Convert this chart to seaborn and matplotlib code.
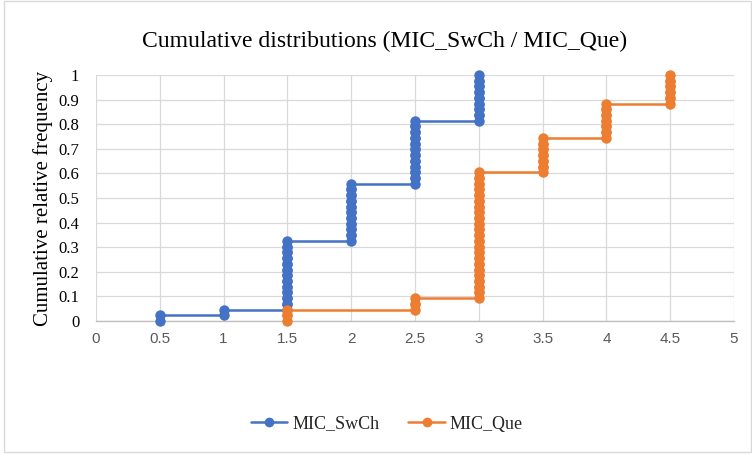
import numpy as np
import pandas as pd
import matplotlib
matplotlib.use("Agg")
import matplotlib.pyplot as plt
import seaborn as sns
from matplotlib.patches import Rectangle
from matplotlib.lines import Line2D

# ---- data ----
mic_levels = [0.5, 1.0, 1.5, 2.0, 2.5, 3.0, 3.5, 4.0, 4.5]
swch_counts = [1, 1, 12, 10, 11, 8, 0, 0, 0]   # n = 43
que_counts = [0, 0, 2, 0, 2, 22, 6, 6, 5]      # n = 43
series_names = ["MIC_SwCh", "MIC_Que"]
x_ticks = [0, 0.5, 1, 1.5, 2, 2.5, 3, 3.5, 4, 4.5, 5]
y_ticks = [0, 0.1, 0.2, 0.3, 0.4, 0.5, 0.6, 0.7, 0.8, 0.9, 1]
title = "Cumulative distributions (MIC_SwCh / MIC_Que)"
ylabel = "Cumulative relative frequency"

colors = {"MIC_SwCh": "#4472C4", "MIC_Que": "#ED7D31"}


def step_points(levels, counts, name):
    obs = np.repeat(levels, counts)
    n = len(obs)
    rows = []
    for i, v in enumerate(obs):
        rows.append((name, v, i / n))
        rows.append((name, v, (i + 1) / n))
    return rows


rows = step_points(mic_levels, swch_counts, series_names[0]) + \
       step_points(mic_levels, que_counts, series_names[1])
df = pd.DataFrame(rows, columns=["series", "mic", "cf"])

sns.set_theme(style="white")
serif = ["Liberation Serif", "DejaVu Serif"]

fig = plt.figure(figsize=(7.52, 4.55), dpi=100)
ax = fig.add_axes([96 / 752, 1 - 321 / 455, (734 - 96) / 752, (321 - 75) / 455])

# chart border
fig.patches.append(Rectangle((4 / 752, 1 - 452 / 455), 747 / 752, 451 / 455,
                             transform=fig.transFigure, fill=False,
                             edgecolor="#D9D9D9", linewidth=1.0))

MS = 7.5
LW = 1.8
sns.lineplot(data=df, x="mic", y="cf", hue="series", hue_order=series_names,
             palette=colors, estimator=None, sort=False,
             marker="o", markersize=MS, markeredgewidth=0, linewidth=LW,
             ax=ax, legend=False)
for ln in ax.lines:
    ln.set_clip_on(False)
    ln.set_zorder(3)

ax.set_xlim(0, 5)
ax.set_ylim(0, 1)
ax.set_xticks(x_ticks)
ax.set_xticklabels([f"{t:g}" for t in x_ticks], color="#595959",
                   fontsize=11, family=["Liberation Sans", "DejaVu Sans"])
ax.set_yticks(y_ticks)
ax.set_yticklabels([f"{t:g}" for t in y_ticks], color="#000000",
                   fontsize=12, family=serif)
ax.tick_params(axis="x", length=0, pad=8)
ax.tick_params(axis="y", length=0, pad=12)
ax.grid(True, color="#D9D9D9", linewidth=0.9)
ax.set_axisbelow(True)
for s in ["top", "right", "left"]:
    ax.spines[s].set_visible(False)
ax.spines["bottom"].set_color("#BFBFBF")
ax.spines["bottom"].set_linewidth(1.0)
ax.set_xlabel("")
ax.set_ylabel(ylabel, fontsize=15, family=serif, color="#000000", labelpad=4)

fig.text(385 / 752, 1 - 41 / 455, title, ha="center", va="center",
         fontsize=17, family=serif, color="#000000")

handles = [Line2D([0], [0], color=colors[n], marker="o", markersize=MS - 0.5,
                  markeredgewidth=0, linewidth=LW) for n in series_names]
fig.legend(handles, series_names, loc="center", bbox_to_anchor=(387 / 752, 1 - 424 / 455),
           ncol=2, frameon=False, prop={"family": serif, "size": 13},
           handlelength=2.0, columnspacing=1.6, handletextpad=0.3)

fig.savefig("out.png", dpi=100, facecolor="white")
